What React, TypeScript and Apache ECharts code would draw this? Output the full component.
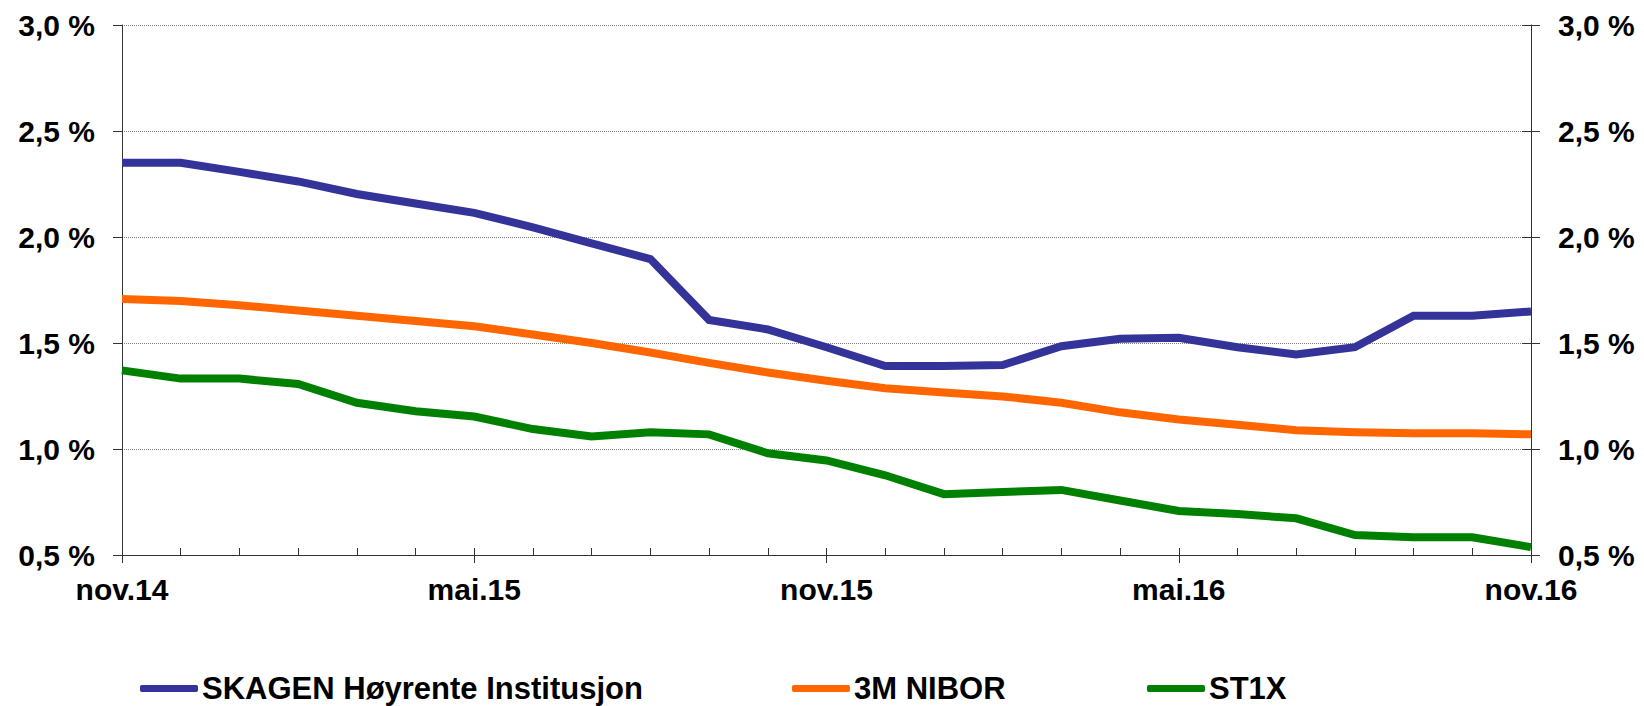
import React, { useEffect, useRef } from "react";
import * as echarts from "echarts";

const categories = [
  "nov.14", "des.14", "jan.15", "feb.15", "mar.15", "apr.15", "mai.15", "jun.15", "jul.15", "aug.15",
  "sep.15", "okt.15", "nov.15", "des.15", "jan.16", "feb.16", "mar.16", "apr.16", "mai.16", "jun.16",
  "jul.16", "aug.16", "sep.16", "okt.16", "nov.16",
];

const skagen = [
  2.35, 2.35, 2.307, 2.262, 2.203, 2.158, 2.114, 2.045, 1.97, 1.896,
  1.609, 1.564, 1.48, 1.391, 1.391, 1.396, 1.485, 1.52, 1.525, 1.48,
  1.446, 1.48, 1.629, 1.629, 1.649,
];

const nibor = [
  1.708, 1.698, 1.678, 1.653, 1.629, 1.604, 1.579, 1.54, 1.5, 1.455,
  1.406, 1.361, 1.322, 1.287, 1.267, 1.248, 1.218, 1.173, 1.139, 1.114,
  1.089, 1.079, 1.074, 1.074, 1.069,
];

const st1x = [
  1.371, 1.332, 1.332, 1.307, 1.218, 1.178, 1.153, 1.094, 1.059, 1.079,
  1.069, 0.98, 0.946, 0.876, 0.787, 0.797, 0.807, 0.757, 0.708, 0.693,
  0.673, 0.594, 0.584, 0.584, 0.537,
];

const seriesNames = ["SKAGEN Høyrente Institusjon", "3M NIBOR", "ST1X"];
const colors = ["#333399", "#FF6600", "#008000"];

const FONT = "'Liberation Sans', Arial, sans-serif";
const AXIS_COLOR = "#333333";

const fmt = (v: number) => v.toFixed(1).replace(".", ",") + " %";

export default function App() {
  const ref = useRef<HTMLDivElement>(null);
  useEffect(() => {
    if (!ref.current) return;
    const chart = echarts.init(ref.current, null, { renderer: "svg" });
    const labelStyle = { fontFamily: FONT, fontWeight: "bold" as const, fontSize: 30, color: "#000" };
    const grid = { left: 122, right: 113, top: 25, bottom: 151, containLabel: false };
    const legendBase = {
      top: 673,
      padding: 0,
      icon: "roundRect",
      itemWidth: 58,
      itemHeight: 7,
      textStyle: {
        fontFamily: FONT,
        fontWeight: "bold" as const,
        fontSize: 31,
        lineHeight: 31,
        color: "#000",
        padding: [0, 0, 0, -1],
      },
      selectedMode: false,
    };
    chart.setOption({
      animation: false,
      backgroundColor: "#fff",
      grid,
      legend: [
        { ...legendBase, left: 140, data: [seriesNames[0]] },
        { ...legendBase, left: 792, data: [seriesNames[1]] },
        { ...legendBase, left: 1147, data: [seriesNames[2]] },
      ],
      xAxis: [
        {
          type: "category",
          data: categories,
          boundaryGap: false,
          position: "bottom",
          axisLine: { show: true, lineStyle: { color: AXIS_COLOR, width: 1 } },
          axisTick: { show: true, inside: true, length: 7, interval: 0, lineStyle: { color: AXIS_COLOR } },
          axisLabel: { ...labelStyle, interval: 5, margin: 19 },
          splitLine: { show: false },
        },
        {
          type: "category",
          data: categories,
          boundaryGap: false,
          position: "bottom",
          axisLine: { show: false },
          axisTick: { show: true, inside: false, length: 8, interval: 5, lineStyle: { color: AXIS_COLOR } },
          axisLabel: { show: false },
          splitLine: { show: false },
        },
      ],
      yAxis: [
        {
          type: "value",
          min: 0.5,
          max: 3.0,
          interval: 0.5,
          position: "left",
          axisLine: { show: true, lineStyle: { color: AXIS_COLOR, width: 1 } },
          axisTick: { show: true, inside: false, length: 9, lineStyle: { color: AXIS_COLOR } },
          axisLabel: { ...labelStyle, margin: 27, formatter: fmt },
          splitLine: { show: true, lineStyle: { type: "dotted", color: "#808080", width: 1 } },
        },
        {
          type: "value",
          min: 0.5,
          max: 3.0,
          interval: 0.5,
          position: "right",
          axisLine: { show: true, lineStyle: { color: AXIS_COLOR, width: 1 } },
          axisTick: { show: true, inside: false, length: 9, lineStyle: { color: AXIS_COLOR } },
          axisLabel: { ...labelStyle, margin: 27, formatter: fmt },
          splitLine: { show: false },
        },
        {
          type: "value",
          min: 0.5,
          max: 3.0,
          interval: 0.5,
          position: "right",
          axisLine: { show: false },
          axisTick: { show: true, inside: true, length: 9, lineStyle: { color: AXIS_COLOR } },
          axisLabel: { show: false },
          splitLine: { show: false },
        },
      ],
      series: [
        { name: seriesNames[0], data: skagen, color: colors[0] },
        { name: seriesNames[1], data: nibor, color: colors[1] },
        { name: seriesNames[2], data: st1x, color: colors[2] },
      ].map((s) => ({
        ...s,
        type: "line",
        xAxisIndex: 0,
        yAxisIndex: 0,
        symbol: "none",
        showSymbol: false,
        itemStyle: { color: s.color },
        lineStyle: { color: s.color, width: 8, cap: "butt", join: "miter" },
      })),
    });
    return () => chart.dispose();
  }, []);
  return <div ref={ref} style={{ position: "fixed", left: 0, top: 0, width: 1644, height: 706 }} />;
}
